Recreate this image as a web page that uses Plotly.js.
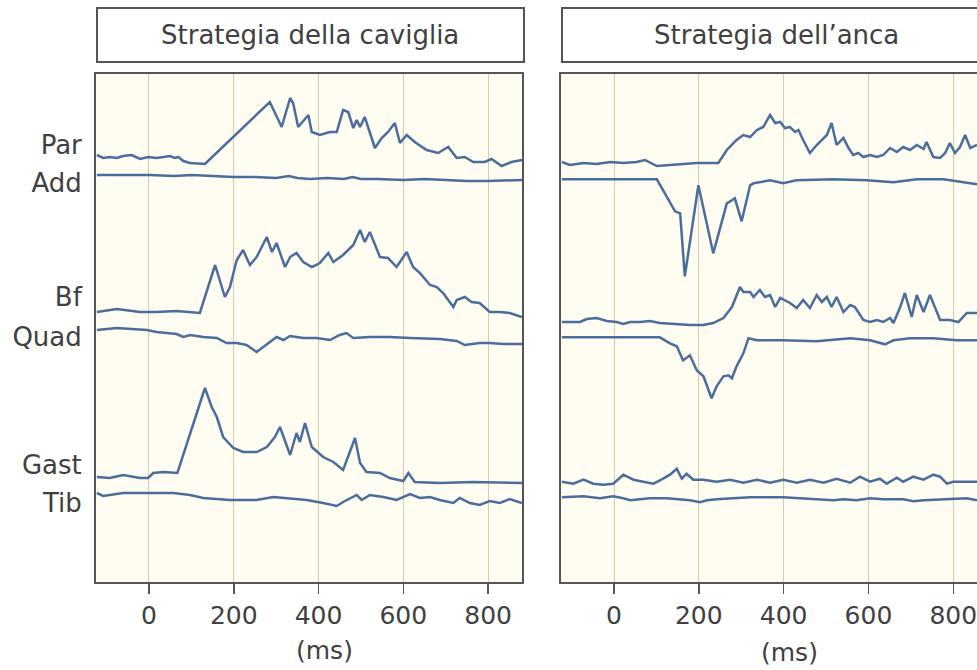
<!DOCTYPE html>
<html>
<head>
<meta charset="utf-8">
<script src="https://cdn.plot.ly/plotly-3.0.1.min.js"></script>
<style>html,body{margin:0;padding:0;background:#fff;}#chart{width:977px;height:670px;}</style>
</head>
<body>
<div id="chart"></div>
<script>
// ---- Data (time in ms, EMG amplitude in arbitrary units, relative to each trace's resting level) ----
const panelTitles = ["Strategia della caviglia", "Strategia dell\u2019anca"];
const muscleLabels = ["Par", "Add", "Bf", "Quad", "Gast", "Tib"];
const xTickVals = [0, 200, 400, 600, 800];
const xUnit = "(ms)";

// Left panel: ankle strategy
const parL_t = [-123,-108,-92,-76,-61,-41,-21,-2,18,34,50,61,69,81,97,132,285,313,333,340,352,376,384,403,427,443,458,470,482,490,498,509,533,549,564,580,592,608,627,655,682,706,726,745,765,792,808,832,855,880];
const parL_v = [2,-1,0,-1,1,2,-2,0,-1,0,1,-1,0,-4,-6,-7,55,30,59,54,30,42,25,22,25,25,47,45,29,37,30,40,9,19,25,34,14,22,15,7,4,10,-1,0,-5,-5,-2,-9,-5,-3];
const addL_t = [-123,-50,0,60,100,150,200,250,300,330,350,380,420,460,480,500,540,600,650,700,750,800,850,880];
const addL_v = [0,0,0,-1,0,-1,-2,-2,-3,-1,-3,-4,-3,-4,-2,-4,-4,-5,-4,-5,-6,-6,-5,-5];
const bfL_t = [-123,-76,-21,18,65,120,156,179,191,207,222,238,254,278,290,301,321,333,348,364,384,403,423,435,458,482,498,509,521,545,564,584,608,623,639,647,663,679,694,718,726,745,761,780,804,828,851,880];
const bfL_v = [0,3,0,0,1,-1,47,15,25,52,62,47,55,75,60,69,45,55,59,50,45,49,59,50,57,67,82,70,80,55,54,45,60,45,39,35,27,25,19,5,12,15,10,9,0,0,-1,-5];
const quadL_t = [-123,-76,-5,18,65,81,97,128,160,183,207,230,254,270,290,301,317,333,364,395,427,450,466,482,521,568,616,686,726,745,780,804,836,880];
const quadL_v = [0,2,0,-2,-4,-7,-5,-7,-8,-13,-13,-15,-22,-17,-10,-7,-10,-6,-8,-8,-10,-5,-3,-8,-7,-7,-8,-9,-11,-15,-13,-13,-14,-14];
const gastL_t = [-123,-92,-61,-21,-2,10,34,53,67,132,148,160,175,199,222,254,278,297,309,333,348,356,368,384,411,435,458,486,498,513,545,568,600,612,627,686,765,880];
const gastL_v = [0,-1,2,-1,-1,4,5,4,4,89,70,60,40,29,25,25,30,40,50,22,44,35,54,30,20,15,7,39,14,5,4,-1,-4,4,-5,-6,-5,-6];
const tibL_t = [-123,-108,-61,-21,58,97,128,191,254,293,348,372,411,443,458,490,502,521,553,584,616,639,663,686,718,733,757,780,804,828,851,880];
const tibL_v = [0,-3,0,0,0,-2,-5,-7,-7,-4,-6,-7,-10,-13,-9,-2,-7,-2,-4,-7,-1,-5,-4,-7,-10,-5,-10,-12,-8,-10,-6,-10];

// Right panel: hip strategy
const parR_t = [-123,-104,-72,-41,-9,22,53,73,101,132,163,195,246,266,289,305,321,337,352,368,380,392,403,415,427,435,446,462,478,490,502,513,525,541,553,564,576,588,604,620,635,651,667,682,698,714,730,737,753,769,781,792,804,816,828,840,856];
const parR_v = [1,-2,0,-1,1,0,1,3,-3,-2,-1,0,0,13,23,28,26,33,36,48,40,41,35,36,31,33,23,10,18,23,28,40,18,25,15,8,10,6,8,6,8,15,11,16,13,18,14,21,6,5,10,20,10,16,28,15,18];
const addR_t = [-123,-50,0,50,101,144,156,167,199,234,254,266,278,285,301,313,321,329,368,399,430,517,596,659,714,777,808,856];
const addR_v = [0,0,0,0,0,-32,-34,-97,-6,-74,-41,-24,-21,-19,-42,-21,-6,-4,-1,-4,-1,0,-1,-3,0,0,-2,-5];
const bfR_t = [-123,-80,-64,-41,-17,6,22,38,61,85,108,140,179,211,234,258,278,297,305,321,329,344,356,368,380,392,415,431,446,462,478,490,502,513,525,541,557,568,588,604,620,635,651,659,675,686,702,714,730,745,769,792,812,832,856];
const bfR_v = [0,0,3,4,1,0,-2,0,0,1,-1,-2,-3,-3,-1,4,15,35,30,30,25,32,25,27,15,24,19,14,22,14,27,20,25,15,25,10,17,15,2,0,2,0,4,-1,15,29,5,27,10,27,2,2,0,9,9];
const quadR_t = [-123,-50,0,50,108,132,148,163,179,195,211,230,242,258,270,278,289,305,317,337,399,478,557,604,639,659,698,753,808,856];
const quadR_v = [0,0,0,0,0,-6,-9,-23,-18,-33,-39,-61,-49,-39,-38,-41,-29,-16,-1,-3,-3,-4,-1,-3,-7,-3,-1,-1,-3,-3];
const gastR_t = [-123,-96,-72,-49,-25,-2,22,46,69,93,116,132,148,160,171,187,211,242,274,305,337,368,399,431,462,494,525,557,580,604,627,643,667,682,706,730,753,769,785,800,824,856];
const gastR_v = [1,-1,3,-1,-2,-1,8,3,1,-1,4,8,14,4,9,3,3,1,3,0,3,0,3,0,3,0,4,0,6,1,4,-1,5,1,6,3,8,6,-1,1,1,1];
const tibR_t = [-123,-72,-33,-2,22,38,61,85,124,156,179,203,219,242,281,321,399,439,478,517,541,572,604,635,682,706,730,792,832,856];
const tibR_v = [0,1,-1,1,-1,-3,-2,-1,-1,-2,-3,-5,-3,-2,-1,0,0,-1,-2,-3,-2,-3,-1,-2,-2,-4,-3,-2,-1,-3];

// ---- Layout constants (positions, styles) ----
const W = 977, H = 670;
const PLOT_TOP = 74, PLOT_BOTTOM = 582;
const PLOT_H = PLOT_BOTTOM - PLOT_TOP;
const FONT = "DejaVu Sans, Liberation Sans, Arial, sans-serif";
const TXT = "#404040";
const LINE = "#4a6d9c";
const FRAME = "#555555";
const px = x => x / W;                       // page x pixel -> paper x
const py = y => (PLOT_BOTTOM - y) / PLOT_H;   // page y pixel -> paper y
const lvl = y => PLOT_BOTTOM - y;             // page y pixel -> y-axis value

// resting levels of each trace (vertical stacking offsets)
const baseL = {par: lvl(157), add: lvl(175), bf: lvl(312), quad: lvl(330), gast: lvl(477), tib: lvl(493)};
const baseR = {par: lvl(163), add: lvl(179.3), bf: lvl(322), quad: lvl(337.3), gast: lvl(482.7), tib: lvl(497.3)};
const labelPos = [lvl(145), lvl(183), lvl(297), lvl(337), lvl(465), lvl(503)];

function tr(t, v, base, xa, ya) {
  return {x: t, y: v.map(a => a + base), xaxis: xa, yaxis: ya, type: "scatter", mode: "lines",
          line: {color: LINE, width: 2.5}, hoverinfo: "skip", showlegend: false};
}
const data = [
  tr(parL_t, parL_v, baseL.par, "x", "y"),
  tr(addL_t, addL_v, baseL.add, "x", "y"),
  tr(bfL_t, bfL_v, baseL.bf, "x", "y"),
  tr(quadL_t, quadL_v, baseL.quad, "x", "y"),
  tr(gastL_t, gastL_v, baseL.gast, "x", "y"),
  tr(tibL_t, tibL_v, baseL.tib, "x", "y"),
  tr(parR_t, parR_v, baseR.par, "x2", "y2"),
  tr(addR_t, addR_v, baseR.add, "x2", "y2"),
  tr(bfR_t, bfR_v, baseR.bf, "x2", "y2"),
  tr(quadR_t, quadR_v, baseR.quad, "x2", "y2"),
  tr(gastR_t, gastR_v, baseR.gast, "x2", "y2"),
  tr(tibR_t, tibR_v, baseR.tib, "x2", "y2")
];

const xCommon = {
  tickvals: xTickVals, ticks: "outside", ticklen: 10, tickwidth: 1.5, tickcolor: FRAME,
  tickfont: {family: FONT, size: 25, color: TXT}, ticklabelstandoff: 0, ticklabeloverflow: "allow",
  showline: true, linecolor: FRAME, linewidth: 2,
  showgrid: true, gridcolor: "#d4ccab", gridwidth: 1, zeroline: false, fixedrange: true
};
const layout = {
  width: W, height: H,
  margin: {l: 0, r: 0, t: PLOT_TOP, b: H - PLOT_BOTTOM, pad: 0},
  paper_bgcolor: "#ffffff", plot_bgcolor: "#fffdf2",
  xaxis: Object.assign({}, xCommon, {domain: [px(96), px(522)], range: [-125, 880], anchor: "y", mirror: true}),
  xaxis2: Object.assign({}, xCommon, {domain: [px(561), 1], range: [-125, 856], anchor: "y2", mirror: true}),
  yaxis: {domain: [0, 1], range: [0, PLOT_H], anchor: "x", tickvals: labelPos, ticktext: muscleLabels,
          ticks: "", ticklabelstandoff: 7, tickfont: {family: FONT, size: 26, color: TXT},
          showline: true, mirror: true, linecolor: FRAME, linewidth: 2, showgrid: false, zeroline: false, fixedrange: true},
  yaxis2: {domain: [0, 1], range: [0, PLOT_H], anchor: "x2", showticklabels: false, ticks: "",
           showline: true, mirror: false, linecolor: FRAME, linewidth: 2, showgrid: false, zeroline: false, fixedrange: true},
  shapes: [
    {type: "rect", xref: "paper", yref: "paper", x0: px(97), x1: px(524), y0: py(62), y1: py(8),
     line: {color: FRAME, width: 2}, fillcolor: "rgba(0,0,0,0)"},
    {type: "rect", xref: "paper", yref: "paper", x0: px(562), x1: px(990), y0: py(62), y1: py(8),
     line: {color: FRAME, width: 2}, fillcolor: "rgba(0,0,0,0)"}
  ],
  annotations: [
    {text: panelTitles[0], xref: "paper", yref: "paper", x: px(310), y: py(35), xanchor: "center", yanchor: "middle",
     showarrow: false, font: {family: FONT, size: 26, color: TXT}},
    {text: panelTitles[1], xref: "paper", yref: "paper", x: px(776), y: py(35), xanchor: "center", yanchor: "middle",
     showarrow: false, font: {family: FONT, size: 26, color: TXT}},
    {text: xUnit, xref: "paper", yref: "paper", x: px(324), y: py(650), xanchor: "center", yanchor: "middle",
     showarrow: false, font: {family: FONT, size: 25, color: TXT}},
    {text: xUnit, xref: "paper", yref: "paper", x: px(789), y: py(652), xanchor: "center", yanchor: "middle",
     showarrow: false, font: {family: FONT, size: 25, color: TXT}}
  ]
};
Plotly.newPlot("chart", data, layout, {staticPlot: true, displayModeBar: false});
</script>
</body>
</html>
